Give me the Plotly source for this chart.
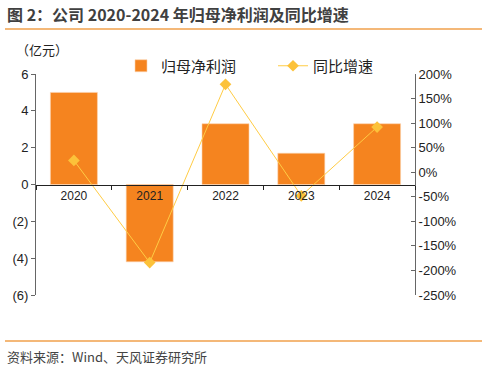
import plotly.graph_objects as go

years = ["2020", "2021", "2022", "2023", "2024"]
profit = [5.0, -4.2, 3.3, 1.7, 3.3]          # 归母净利润 (亿元)
growth = [24, -184, 179, -48, 92]            # 同比增速 (%)

left_vals = [6, 4, 2, 0, -2, -4, -6]
left_text = ["6", "4", "2", "0", "(2)", "(4)", "(6)"]
right_vals = [200, 150, 100, 50, 0, -50, -100, -150, -200, -250]
right_text = [f"{v}%" for v in right_vals]

CJK = "Noto Sans CJK SC"
LAT = "Liberation Sans, Arial, sans-serif"

W, H = 487, 370
L, R, T, B = 36, 72, 74, 75
PW, PH = W - L - R, H - T - B


def px(x):
    return (x - L) / PW


def py(y):
    return (H - B - y) / PH


fig = go.Figure()
fig.add_trace(go.Bar(
    x=years, y=profit, name="归母净利润",
    marker=dict(color="#F5841F", line=dict(color="#FBD3B0", width=0.6)),
    width=0.62, yaxis="y", legend="legend",
))
fig.add_trace(go.Scatter(
    x=years, y=growth, name="同比增速", mode="lines+markers",
    line=dict(color="#FFCC44", width=1),
    marker=dict(symbol="diamond", size=9, color="#FCC23A"),
    yaxis="y2", legend="legend2",
))

leg_common = dict(
    orientation="h", yanchor="middle",
    font=dict(family=CJK, size=15, color="#222"),
    bgcolor="rgba(0,0,0,0)",
)

fig.update_layout(
    width=W, height=H,
    margin=dict(l=L, r=R, t=T, b=B, autoexpand=False),
    paper_bgcolor="white", plot_bgcolor="white",
    font=dict(family=LAT, size=12, color="#222"),
    showlegend=True,
    legend=dict(x=px(121), y=py(66), xanchor="left", **leg_common),
    legend2=dict(x=px(273), y=py(66), xanchor="left", **leg_common),
    xaxis=dict(
        type="category", range=[-0.5, 4.5], anchor="free", position=0.5,
        showline=True, linecolor="#222", linewidth=1,
        ticks="outside", tickson="boundaries", ticklen=4, tickcolor="#222",
        showgrid=False, zeroline=False,
        tickfont=dict(family=LAT, size=12, color="#222"),
    ),
    yaxis=dict(
        range=[-6, 6], tickvals=left_vals, ticktext=left_text,
        showline=True, linecolor="#666", linewidth=1,
        ticks="outside", ticklen=4, tickcolor="#666",
        showgrid=False, zeroline=False,
        tickfont=dict(family=LAT, size=13, color="#222"),
    ),
    yaxis2=dict(
        range=[-250, 200], overlaying="y", side="right",
        tickvals=right_vals, ticktext=right_text,
        showline=True, linecolor="#666", linewidth=1,
        ticks="inside", ticklen=4, tickcolor="#666",
        showgrid=False, zeroline=False,
        tickfont=dict(family=LAT, size=13, color="#222"),
    ),
)

fig.add_annotation(
    text="<b>图 2：公司 2020-2024 年归母净利润及同比增速</b>",
    xref="paper", yref="paper", x=px(5), y=py(14), xanchor="left", yanchor="middle",
    showarrow=False, font=dict(family=CJK, size=16, color="#404040"),
)
fig.add_annotation(
    text="（亿元）", xref="paper", yref="paper", x=px(14), y=py(50),
    xanchor="left", yanchor="middle", showarrow=False,
    font=dict(family=CJK, size=13, color="#222"),
)
fig.add_annotation(
    text="资料来源：Wind、天风证券研究所", xref="paper", yref="paper",
    x=px(5), y=py(356), xanchor="left", yanchor="middle", showarrow=False,
    font=dict(family=CJK, size=13, color="#444"),
)
for yy in (29, 341):
    fig.add_shape(type="line", xref="paper", yref="paper",
                  x0=px(5), x1=px(482), y0=py(yy), y1=py(yy),
                  line=dict(color="#F0A04B", width=1.5))

fig.write_html(
    "out.html",
    config={"displayModeBar": False},
    post_script="document.body.style.margin='0';document.body.style.overflow='hidden';",
)
